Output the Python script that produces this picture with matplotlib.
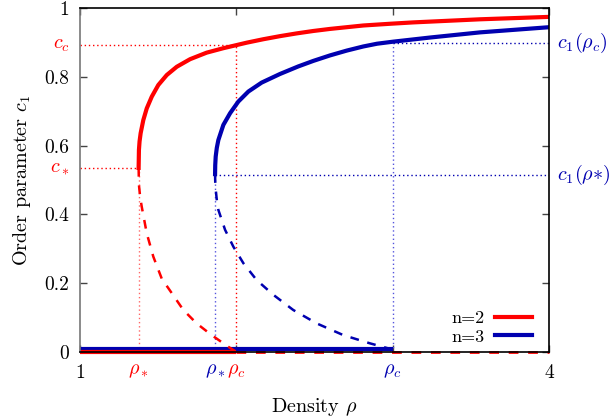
import matplotlib
matplotlib.use("Agg")
import matplotlib.pyplot as plt
import matplotlib.transforms as mtransforms

plt.rcParams["font.family"] = "serif"
plt.rcParams["font.serif"] = ["cmr10", "DejaVu Serif"]
plt.rcParams["mathtext.fontset"] = "cm"
plt.rcParams["axes.formatter.use_mathtext"] = True
plt.rcParams["font.size"] = 14

RED = "#ff0000"
BLUE = "#0000b0"
LBLUE = "#5555dd"
LRED = "#ff6666"

# n=2: stable (upper) branch
rho_up2 = [1.375, 1.376, 1.377, 1.381, 1.388, 1.405, 1.427, 1.459, 1.501, 1.555, 1.619,
           1.704, 1.810, 1.917, 2.066, 2.172, 2.279, 2.386, 2.492, 2.599, 2.812, 2.983,
           3.132, 3.559, 4.0]
c_up2 = [0.535, 0.560, 0.587, 0.612, 0.636, 0.674, 0.708, 0.742, 0.776, 0.805, 0.829,
         0.851, 0.870, 0.883, 0.899, 0.909, 0.918, 0.926, 0.933, 0.939, 0.949, 0.954,
         0.958, 0.967, 0.974]
# n=2: unstable (lower) branch
rho_lo2 = [1.375, 1.376, 1.378, 1.385, 1.395, 1.427, 1.469, 1.523, 1.587, 1.661, 1.746,
           1.842, 1.949, 2.0]
c_lo2 = [0.535, 0.510, 0.481, 0.450, 0.422, 0.345, 0.277, 0.213, 0.171, 0.122, 0.083,
         0.049, 0.015, 0.0]

# n=3: stable (upper) branch
rho_up3 = [1.864, 1.865, 1.868, 1.875, 1.885, 1.917, 1.960, 2.013, 2.077, 2.162, 2.279,
           2.396, 2.492, 2.599, 2.706, 2.812, 2.9, 3.004, 3.239, 3.559, 4.0]
c_up3 = [0.517, 0.543, 0.568, 0.593, 0.616, 0.660, 0.694, 0.728, 0.757, 0.783, 0.808,
         0.830, 0.846, 0.862, 0.876, 0.888, 0.896, 0.902, 0.914, 0.929, 0.944]
# n=3: unstable (lower) branch
rho_lo3 = [1.864, 1.865, 1.868, 1.875, 1.885, 1.928, 1.981, 2.045, 2.130, 2.237, 2.364,
           2.514, 2.684, 2.855, 2.983, 3.0]
c_lo3 = [0.517, 0.495, 0.473, 0.442, 0.413, 0.355, 0.306, 0.258, 0.209, 0.166, 0.122,
         0.083, 0.049, 0.025, 0.009, 0.0]

# critical values
rho_star2, rho_c2, c_star2, c_c2 = 1.375, 2.0, 0.535, 0.892
rho_star3, rho_c3, c_star3, c_c3 = 1.864, 3.0, 0.515, 0.899

fig = plt.figure(figsize=(6.12, 4.18), dpi=100)
ax = fig.add_axes([0.1307, 0.158, 0.7664, 0.823])

# guide lines
dot = dict(linestyle=(0, (1, 2)), linewidth=1.0)
ax.plot([1, rho_c2], [c_c2, c_c2], color=RED, **dot)
ax.plot([rho_c2, rho_c2], [0, c_c2], color=RED, **dot)
ax.plot([1, rho_star2], [c_star2, c_star2], color=RED, **dot)
ax.plot([rho_star2, rho_star2], [0, c_star2], color=LRED, **dot)
ax.plot([rho_star3, 4], [c_star3, c_star3], color=BLUE, **dot)
ax.plot([rho_star3, rho_star3], [0, c_star3], color=LBLUE, **dot)
ax.plot([rho_c3, 4], [c_c3, c_c3], color=BLUE, **dot)
ax.plot([rho_c3, rho_c3], [0, c_c3], color=LBLUE, **dot)

# disordered branch
ax.plot([rho_c2, 4], [0, 0], color=RED, lw=2, dashes=(3.5, 3.5), clip_on=False)
ax.plot([1, rho_c3], [0.008, 0.008], color=BLUE, lw=3, solid_capstyle="butt", clip_on=False)
ax.plot([1, rho_c2], [0, 0], color=RED, lw=3, solid_capstyle="butt", clip_on=False)

ax.plot(rho_lo2, c_lo2, color=RED, lw=1.8, dashes=(3.5, 3.5))
ax.plot(rho_lo3, c_lo3, color=BLUE, lw=1.8, dashes=(3.5, 3.5))
ax.plot(rho_up2, c_up2, color=RED, lw=3, label="n=2")
ax.plot(rho_up3, c_up3, color=BLUE, lw=3, label="n=3")

ax.set_xlim(1, 4)
ax.set_ylim(0, 1)
ax.set_xticks([1, 2, 3, 4])
ax.set_xticklabels(["1", "", "", "4"])
ax.set_yticks([0, 0.2, 0.4, 0.6, 0.8, 1])
ax.set_yticklabels(["0", "0.2", "0.4", "0.6", "0.8", "1"])
ax.tick_params(direction="in", length=5, width=1, top=True, right=True, pad=8,
               labelsize=14, color="#444444")
ax.tick_params(axis="x", pad=9)
ax.spines["left"].set_color("#777777")
for s in ax.spines.values():
    s.set_linewidth(1.2)

tx = mtransforms.blended_transform_factory(ax.transData, ax.transAxes)
ty = mtransforms.blended_transform_factory(ax.transAxes, ax.transData)
for x, s, col in [(rho_star2, r"$\rho_*$", RED), (rho_star3, r"$\rho_*$", BLUE),
                  (rho_c2, r"$\rho_c$", RED), (rho_c3, r"$\rho_c$", BLUE)]:
    ax.text(x, -0.055, s, transform=tx, color=col, ha="center", va="center", fontsize=14.5)
ax.text(-0.022, c_c2, r"$c_c$", transform=ty, color=RED, ha="right", va="center", fontsize=14.5)
ax.text(-0.022, c_star2, r"$c_*$", transform=ty, color=RED, ha="right", va="center", fontsize=14.5)
ax.text(1.017, c_c3, r"$c_1(\rho_c)$", transform=ty, color=BLUE, ha="left", va="center", fontsize=14.5)
ax.text(1.017, c_star3, r"$c_1(\rho{*})$", transform=ty, color=BLUE, ha="left", va="center", fontsize=14.5)

ax.set_xlabel(r"Density $\rho$", fontsize=14.5, labelpad=10)
ax.set_ylabel(r"Order parameter $c_1$", fontsize=14.5, labelpad=8)

ax.legend(loc="lower right", bbox_to_anchor=(0.979, 0.0), borderaxespad=0, frameon=False,
          markerfirst=False, handlelength=2.05, handletextpad=0.6, labelspacing=0.15,
          fontsize=13)

fig.savefig("out.png", dpi=100)
